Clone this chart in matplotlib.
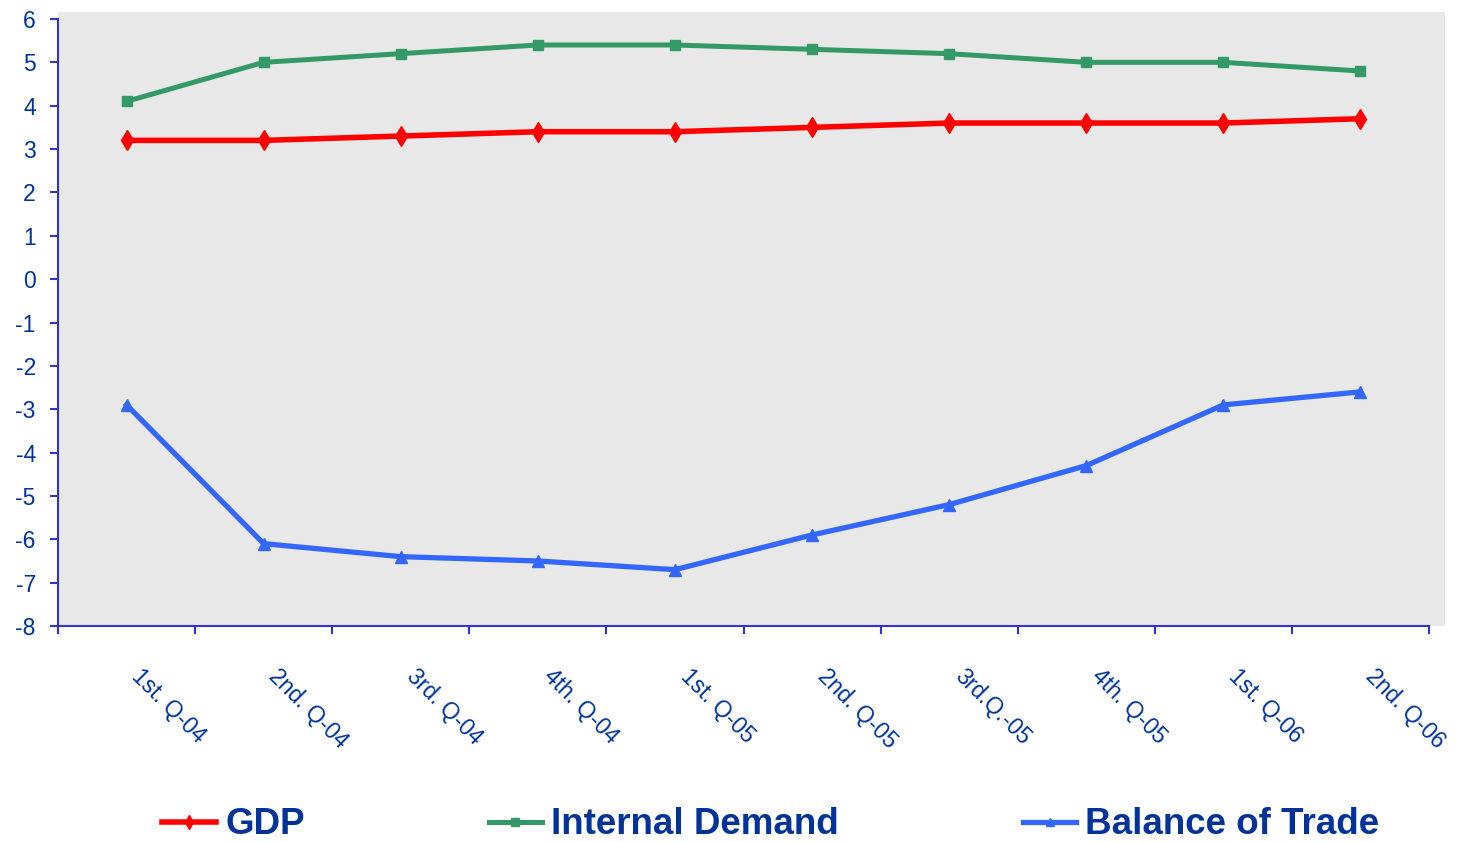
import numpy as np
import matplotlib.pyplot as plt
from matplotlib.transforms import ScaledTranslation

quarters = ['1st. Q-04', '2nd. Q-04', '3rd. Q-04', '4th. Q-04', '1st. Q-05',
            '2nd. Q-05', '3rd.Q.-05', '4th. Q-05', '1st. Q-06', '2nd. Q-06']
gdp = [3.2, 3.2, 3.3, 3.4, 3.4, 3.5, 3.6, 3.6, 3.6, 3.7]
internal_demand = [4.1, 5.0, 5.2, 5.4, 5.4, 5.3, 5.2, 5.0, 5.0, 4.8]
balance_of_trade = [-2.9, -6.1, -6.4, -6.5, -6.7, -5.9, -5.2, -4.3, -2.9, -2.6]

text_color = '#003399'
axis_color = '#3333CC'

plt.rcParams['font.family'] = ['Liberation Sans', 'DejaVu Sans']
plt.rcParams['axes.unicode_minus'] = False

fig = plt.figure(figsize=(14.58, 8.42), dpi=100)
ax = fig.add_axes([0.0398, 0.2565, 0.9513, 0.7292])
ax.set_facecolor('#E8E8E8')

x = np.arange(len(quarters))
ax.plot(x, gdp, color='#FF0000', lw=4, marker='d', ms=10, label='GDP')
ax.plot(x, internal_demand, color='#339966', lw=3.6, marker='s', ms=7.5, label='Internal Demand')
ax.plot(x, balance_of_trade, color='#3366FF', lw=3.8, marker='^', ms=8, label='Balance of Trade')

ax.set_xlim(-0.5, 9.617)
ax.set_ylim(-8, 6.16)

for side in ['top', 'right']:
    ax.spines[side].set_visible(False)
for side in ['left', 'bottom']:
    ax.spines[side].set_color(axis_color)
    ax.spines[side].set_linewidth(1.5)
ax.spines['left'].set_bounds(-8, 6)
ax.spines['bottom'].set_bounds(-0.5, 9.5)

ax.set_yticks(range(-8, 7))
ax.tick_params(axis='y', colors=axis_color, labelcolor=text_color, labelsize=16.5,
               length=6, width=1.5, pad=10)

# category boundaries get the tick marks, labels sit at the centres
ax.set_xticks(np.arange(-0.5, 10, 1))
ax.set_xticklabels([])
ax.tick_params(axis='x', which='major', colors=axis_color, length=6, width=1.5)
ax.set_xticks(x, minor=True)
ax.set_xticklabels(quarters, minor=True, rotation=-45, ha='left', va='top',
                   rotation_mode='anchor', color=text_color, fontsize=16.5)
ax.tick_params(axis='x', which='minor', length=0, pad=28)
shift = ScaledTranslation(17 / 100, 0, fig.dpi_scale_trans)
for lbl in ax.get_xticklabels(minor=True):
    lbl.set_transform(lbl.get_transform() + shift)

leg = fig.legend(loc='center', ncol=3, frameon=False,
                 prop={'weight': 'bold', 'size': 26.5}, handlelength=1.45,
                 handletextpad=0.25, columnspacing=5.0, markerscale=0.7)
for t in leg.get_texts():
    t.set_color(text_color)
leg.set_bbox_to_anchor((771 / 1458, (842 - 825) / 842), transform=fig.transFigure)

fig.savefig('out.png', dpi=100)
